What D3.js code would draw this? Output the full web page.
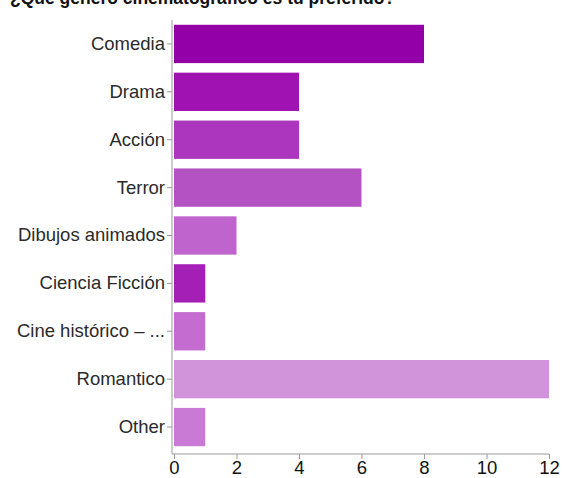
<!DOCTYPE html>
<html>
<head>
<meta charset="utf-8">
<script src="https://cdn.jsdelivr.net/npm/d3@7"></script>
<style>
  body { margin: 0; background: #fff; }
  svg { display: block; font-family: "Liberation Sans", Arial, sans-serif; }
</style>
</head>
<body>
<svg id="chart" width="562" height="478"></svg>
<script>
// data
const genres = ['Comedia', 'Drama', 'Acción', 'Terror', 'Dibujos animados',
  'Ciencia Ficción', 'Cine histórico – ...', 'Romantico', 'Other'];
const counts = [8, 4, 4, 6, 2, 1, 1, 12, 1];
const barColors = ['#9400a8', '#a012b2', '#ad36bf', '#b452c4', '#c064cd',
  '#a41fb6', '#c56cd1', '#d193da', '#c97ad5'];
const xTicks = [0, 2, 4, 6, 8, 10, 12];
const title = '¿Qué género cinematográfico es tu preferido?';

const svg = d3.select('#chart');
const plotLeft = 174, plotRight = 549, plotTop = 20, plotBottom = 454;

const x = d3.scaleLinear().domain([0, 12]).range([plotLeft, plotRight]);
const y = d3.scaleBand().domain(genres).range([plotTop, 451]).paddingInner(0.2).paddingOuter(0.1);

// title, cut off at the top as in the source
svg.append('text')
  .attr('x', 10).attr('y', 4)
  .style('font-weight', 'bold').style('font-size', '17.5px').attr('fill', '#111')
  .text(title);

svg.append('g').selectAll('rect')
  .data(genres)
  .join('rect')
  .attr('x', x(0))
  .attr('y', d => y(d))
  .attr('width', (d, i) => x(counts[i]) - x(0))
  .attr('height', y.bandwidth())
  .attr('fill', (d, i) => barColors[i]);

const xAxis = svg.append('g')
  .attr('transform', 'translate(0,' + plotBottom + ')')
  .call(d3.axisBottom(x).tickValues(xTicks).tickSize(5).tickPadding(2).tickSizeOuter(0));
xAxis.select('.domain').attr('stroke', '#999').attr('d', 'M' + (plotLeft - 2) + ',0H' + plotRight);
xAxis.selectAll('.tick line').attr('stroke', '#999');
xAxis.selectAll('text').style('font-size', '18.5px').attr('fill', '#111');

const yAxis = svg.append('g')
  .attr('transform', 'translate(' + (plotLeft - 2) + ',0)')
  .call(d3.axisLeft(y).tickSize(5).tickPadding(2).tickSizeOuter(0));
yAxis.select('.domain').attr('stroke', '#999').attr('d', 'M0,' + plotTop + 'V' + plotBottom);
yAxis.selectAll('.tick line').attr('stroke', '#999');
yAxis.selectAll('text').style('font-size', '18.5px').attr('fill', '#2a2a2a');
</script>
</body>
</html>
